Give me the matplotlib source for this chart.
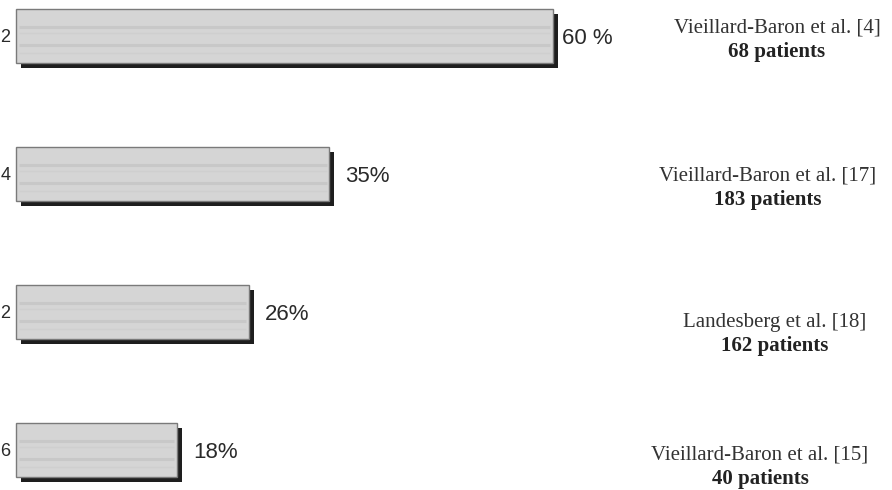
import matplotlib
matplotlib.use("Agg")
import matplotlib.pyplot as plt
import matplotlib.transforms as mtransforms
import numpy as np

# data
row_tags = ['2', '4', '2', '6']
percent = [60, 35, 26, 18]
pct_text = ['60 %', '35%', '26%', '18%']
studies = ['Vieillard-Baron et al. [4]', 'Vieillard-Baron et al. [17]',
           'Landesberg et al. [18]', 'Vieillard-Baron et al. [15]']
n_patients = [68, 183, 162, 40]

# style
FACE = '#d5d5d5'
STRIPE = '#bfbfbf'
EDGE = '#7a7a7a'
SHADOW = '#1e1e1e'
TEXT = '#2a2a2a'

W, H, DPI = 892, 490, 100
fig = plt.figure(figsize=(W / DPI, H / DPI), dpi=DPI)
ax = fig.add_axes([0, 0, 1, 1])
ax.set_axis_off()

# pixel layout -> data limits
x0_px, px_per_pct = 16, 8.95
row0_px, row_step = 36, 138
ax.set_xlim(-x0_px / px_per_pct, (W - x0_px) / px_per_pct)
ax.set_ylim(3 + (H - (row0_px + 3 * row_step)) / row_step, -row0_px / row_step)

y = np.arange(len(percent))
bh = 54 / row_step

def px_shift(dx, dy):
    return mtransforms.ScaledTranslation(dx / DPI, -dy / DPI, fig.dpi_scale_trans)

# shadow offset 5px right/down
ax.barh(y, percent, height=bh, color=SHADOW, edgecolor='none',
        transform=ax.transData + px_shift(5, 5), zorder=1)
ax.barh(y, percent, height=bh, color=FACE, edgecolor=EDGE, linewidth=1.0, zorder=2)

# faint grain stripes
for frac, lw, a in [(-0.17, 2.2, 0.55), (0.17, 2.2, 0.55), (-0.05, 1.0, 0.25), (0.32, 1.0, 0.25)]:
    ax.hlines(y + frac * bh, 0.3, np.array(percent) - 0.3, color=STRIPE,
              linewidth=lw, alpha=a, zorder=3)

blend = mtransforms.blended_transform_factory(ax.transAxes, ax.transData)
for i, v in enumerate(percent):
    off = 9 if i == 0 else 16
    ax.text(v, i, pct_text[i], transform=ax.transData + px_shift(off, 3),
            ha='left', va='center', fontsize=16, family='Liberation Sans', color=TEXT)
    ax.text(0.5 / W, i, row_tags[i], transform=blend + px_shift(0, 1),
            ha='left', va='center', fontsize=13, family='Liberation Sans', color=TEXT)

text_cx = [777, 768, 775, 760]
text_dy = [-8, 2, 10, 5]
for i, (s, n) in enumerate(zip(studies, n_patients)):
    cx = text_cx[i] / W
    ax.text(cx, i, s, transform=blend + px_shift(0, text_dy[i]), ha='center', va='center',
            fontsize=15, family='Liberation Serif', color='#333333')
    ax.text(cx, i, f'{n} patients', transform=blend + px_shift(0, text_dy[i] + 24),
            ha='center', va='center', fontsize=15, family='Liberation Serif',
            fontweight='bold', color='#222222')

fig.savefig('out.png', dpi=DPI, facecolor='white')
